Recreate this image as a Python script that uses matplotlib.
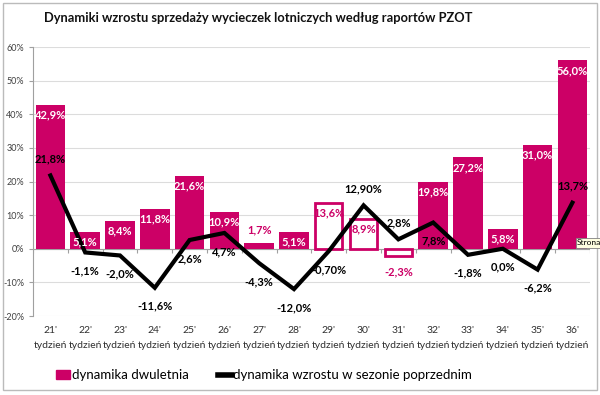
import numpy as np
import matplotlib
matplotlib.use("Agg")
import matplotlib.pyplot as plt
from matplotlib.patches import Rectangle

plt.rcParams['font.family'] = ['Lato', 'DejaVu Sans']

weeks = ["21'", "22'", "23'", "24'", "25'", "26'", "27'", "28'",
         "29'", "30'", "31'", "32'", "33'", "34'", "35'", "36'"]
dwuletnia = [42.9, 5.1, 8.4, 11.8, 21.6, 10.9, 1.7, 5.1,
             13.6, 8.9, -2.3, 19.8, 27.2, 5.8, 31.0, 56.0]
hollow = [False] * 8 + [True, True, True] + [False] * 5
poprzedni = [21.8, -1.1, -2.0, -11.6, 2.6, 4.7, -4.3, -12.0,
             -0.7, 12.9, 2.8, 7.8, -1.8, 0.0, -6.2, 13.7]
bar_labels = ["42,9%", "5,1%", "8,4%", "11,8%", "21,6%", "10,9%", "1,7%", "5,1%",
              "13,6%", "8,9%", "-2,3%", "19,8%", "27,2%", "5,8%", "31,0%", "56,0%"]
line_labels = ["21,8%", "-1,1%", "-2,0%", "-11,6%", "2,6%", "4,7%", "-4,3%", "-12,0%",
               "-0,70%", "12,90%", "2,8%", "7,8%", "-1,8%", "0,0%", "-6,2%", "13,7%"]
# above (+1) or below (-1) the line point
line_pos = [1, -1, -1, -1, -1, -1, -1, -1, -1, 1, 1, -1, -1, -1, -1, 1]

PINK = '#CC0066'
x = np.arange(len(weeks))

fig = plt.figure(figsize=(6.0, 3.95), dpi=100)
ax = fig.add_axes([0.055, 0.2, 0.928, 0.681])

for i, v in enumerate(dwuletnia):
    if hollow[i]:
        ax.bar(x[i], v, width=0.78, color='white', edgecolor=PINK, linewidth=2, zorder=2)
    else:
        ax.bar(x[i], v, width=0.85, color=PINK, zorder=2)

ax.plot(x, poprzedni, color='black', linewidth=3, zorder=3, solid_joinstyle='miter')

# bar labels
for i, v in enumerate(dwuletnia):
    if hollow[i]:
        y = v - 3 if v > 0 else v - 4.5
        ax.text(x[i], y, bar_labels[i], ha='center', va='center', color=PINK,
                fontsize=8, fontweight='bold', zorder=4)
    elif v < 3:
        ax.text(x[i], v + 4, bar_labels[i], ha='center', va='center', color=PINK,
                fontsize=8, fontweight='bold', zorder=4)
    else:
        ax.text(x[i], v - 3, bar_labels[i], ha='center', va='center', color='white',
                fontsize=8, fontweight='bold', zorder=4)

for i, v in enumerate(poprzedni):
    off = 5 if line_pos[i] > 0 else -5.5
    ax.text(x[i], v + off, line_labels[i], ha='center', va='center', color='black',
            fontsize=8, fontweight='bold', zorder=4)

ax.set_ylim(-20, 60)
ax.set_xlim(-0.5, len(weeks) - 0.5)
ax.set_yticks(np.arange(-20, 61, 10))
ax.set_yticklabels([f"{t}%" for t in range(-20, 61, 10)], fontsize=6.5, color='#404040')
ax.set_xticks(x)
ax.set_xticklabels([w + "\ntydzień" for w in weeks], fontsize=7.5, color='#303030', linespacing=1.9)
ax.tick_params(axis='x', length=0, pad=7)
ax.tick_params(axis='y', length=3, color='#a0a0a0')
ax.grid(axis='y', color='#dcdcdc', linewidth=0.8, zorder=0)
ax.set_axisbelow(True)
for s in ['top', 'right', 'bottom']:
    ax.spines[s].set_visible(False)
ax.spines['left'].set_color('#a0a0a0')
ax.axhline(0, color='#a0a0a0', linewidth=0.8, zorder=1)
ax.vlines(np.arange(len(weeks) + 1) - 0.5, -1.2, 0, color='#a0a0a0', linewidth=0.8, zorder=1)

fig.text(0.43, 0.955, "Dynamiki wzrostu sprzedaży wycieczek lotniczych według raportów PZOT",
         ha='center', va='center', fontsize=9.3, fontweight='bold', color='#111111')

h1 = Rectangle((0, 0), 1, 1, color=PINK)
h2, = ax.plot([], [], color='black', linewidth=4)
fig.legend([h1, h2], ["dynamika dwuletnia", "dynamika wzrostu w sezonie poprzednim"],
           loc='center', bbox_to_anchor=(0.44, 0.05), ncol=2, frameon=False, fontsize=9.5,
           handlelength=1.1, handletextpad=0.1, columnspacing=2.2)

fig.text(0.962, 0.385, "Strona", fontsize=6, ha='left', va='center',
         bbox=dict(boxstyle='square,pad=0.2', facecolor='#ffffe1', edgecolor='#808080', linewidth=0.6), zorder=5)

fig.patches.append(Rectangle((0.005, 0.012), 0.99, 0.98, transform=fig.transFigure,
                             fill=False, edgecolor='#bbbbbb', linewidth=1))

fig.savefig("out.png", dpi=100)
